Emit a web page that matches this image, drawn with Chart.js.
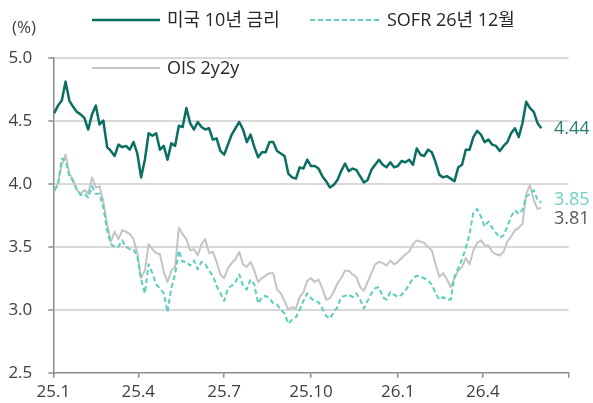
<!DOCTYPE html>
<html lang="ko">
<head>
<meta charset="UTF-8">
<title>미국 10년 금리 vs SOFR vs OIS</title>
<script src="https://cdn.jsdelivr.net/npm/chart.js@4.4.0/dist/chart.umd.min.js"></script>
<style>
  body { margin: 0; background: #fff; }
  canvas { display: block; }
</style>
</head>
<body>
<canvas id="chart" width="593" height="403"></canvas>
<script>
  // sampled every 4 calendar days starting from the first trading day
  const seriesStart = '2025-01-02';
  const stepDays = 4;

  const us10y = [
    4.56, 4.62, 4.66, 4.81, 4.66, 4.61, 4.57, 4.55, 4.52, 4.43,
    4.55, 4.62, 4.47, 4.50, 4.29, 4.26, 4.22, 4.31, 4.29, 4.30,
    4.27, 4.33, 4.24, 4.05, 4.19, 4.40, 4.38, 4.40, 4.27, 4.30,
    4.19, 4.32, 4.30, 4.46, 4.45, 4.60, 4.48, 4.43, 4.49, 4.45,
    4.43, 4.44, 4.35, 4.36, 4.26, 4.23, 4.31, 4.39, 4.44, 4.49,
    4.43, 4.33, 4.39, 4.29, 4.21, 4.25, 4.25, 4.33, 4.33, 4.26,
    4.24, 4.22, 4.08, 4.05, 4.04, 4.13, 4.12, 4.19, 4.14, 4.14,
    4.12, 4.06, 4.02, 3.97, 3.99, 4.03, 4.10, 4.16, 4.10, 4.12,
    4.11, 4.06, 4.01, 4.03, 4.11, 4.15, 4.19, 4.15, 4.13, 4.17,
    4.13, 4.14, 4.18, 4.17, 4.19, 4.15, 4.28, 4.23, 4.22, 4.27,
    4.25, 4.17, 4.07, 4.05, 4.06, 4.04, 4.02, 4.13, 4.15, 4.27,
    4.27, 4.37, 4.42, 4.39, 4.33, 4.35, 4.31, 4.30, 4.26, 4.30,
    4.33, 4.40, 4.44, 4.37, 4.48, 4.65, 4.60, 4.57, 4.48, 4.44
  ];

  const sofrDec26 = [
    3.95, 3.99, 4.20, 4.18, 4.06, 4.02, 3.95, 3.91, 3.92, 3.89,
    3.98, 3.92, 3.92, 3.81, 3.63, 3.52, 3.50, 3.50, 3.55, 3.50,
    3.48, 3.48, 3.42, 3.24, 3.13, 3.36, 3.29, 3.20, 3.17, 3.13,
    2.98, 3.17, 3.28, 3.47, 3.38, 3.38, 3.35, 3.39, 3.32, 3.38,
    3.36, 3.31, 3.27, 3.19, 3.13, 3.07, 3.17, 3.19, 3.22, 3.28,
    3.19, 3.16, 3.24, 3.20, 3.05, 3.10, 3.11, 3.09, 3.05, 3.04,
    3.00, 2.97, 2.89, 2.92, 2.94, 3.00, 3.07, 3.13, 3.09, 3.07,
    3.06, 3.01, 2.95, 2.93, 2.98, 3.02, 3.10, 3.11, 3.12, 3.10,
    3.13, 3.08, 3.01, 3.07, 3.13, 3.17, 3.18, 3.10, 3.08, 3.14,
    3.12, 3.10, 3.12, 3.15, 3.20, 3.25, 3.27, 3.26, 3.25, 3.23,
    3.20, 3.13, 3.08, 3.10, 3.08, 3.08, 3.26, 3.33, 3.40, 3.49,
    3.60, 3.77, 3.80, 3.74, 3.66, 3.70, 3.65, 3.61, 3.57, 3.59,
    3.66, 3.74, 3.79, 3.76, 3.79, 3.90, 3.92, 3.95, 3.87, 3.85
  ];

  const ois2y2y = [
    3.93, 4.01, 4.15, 4.23, 4.08, 4.03, 3.95, 3.92, 3.95, 3.92,
    4.05, 3.97, 3.98, 3.86, 3.68, 3.54, 3.62, 3.56, 3.63, 3.62,
    3.60, 3.56, 3.45, 3.25, 3.31, 3.52, 3.48, 3.45, 3.44, 3.30,
    3.22, 3.31, 3.34, 3.65, 3.60, 3.56, 3.47, 3.48, 3.43, 3.52,
    3.56, 3.45, 3.46, 3.38, 3.28, 3.25, 3.33, 3.37, 3.40, 3.46,
    3.36, 3.34, 3.38, 3.31, 3.22, 3.25, 3.27, 3.29, 3.29, 3.16,
    3.13, 3.07, 3.00, 3.02, 3.01, 3.10, 3.14, 3.23, 3.25, 3.22,
    3.24, 3.17, 3.08, 3.09, 3.14, 3.21, 3.25, 3.31, 3.31, 3.28,
    3.26, 3.18, 3.15, 3.22, 3.29, 3.36, 3.38, 3.37, 3.35, 3.39,
    3.36, 3.38, 3.41, 3.44, 3.46, 3.52, 3.55, 3.54, 3.53, 3.50,
    3.47, 3.36, 3.26, 3.29, 3.24, 3.18, 3.25, 3.31, 3.34, 3.41,
    3.36, 3.47, 3.53, 3.55, 3.51, 3.51, 3.46, 3.44, 3.43, 3.46,
    3.54, 3.58, 3.63, 3.65, 3.68, 3.92, 3.99, 3.87, 3.80, 3.81
  ];

  const tickMonths = ['2025-01-01', '2025-04-01', '2025-07-01', '2025-10-01', '2026-01-01', '2026-04-01', '2026-07-01'];
  const tickLabels = ['25.1', '25.4', '25.7', '25.10', '26.1', '26.4', ''];

  const seriesNames = ['미국 10년 금리', 'SOFR 26년 12월', 'OIS 2y2y'];
  const seriesColors = ['#0b6e62', '#5ccdbf', '#c4c4c4'];

  const FONT = '"Open Sans", "Noto Sans CJK KR", sans-serif';
  const dayOf = s => (Date.parse(s + 'T00:00:00Z') - Date.parse(tickMonths[0] + 'T00:00:00Z')) / 864e5;
  const toPoints = arr => arr.map((v, i) => ({ x: dayOf(seriesStart) + i * stepDays, y: v }));

  // legend, unit label and end-of-line values
  const annotations = {
    id: 'annotations',
    afterDraw(chart) {
      const ctx = chart.ctx;
      const ys = chart.scales.y;
      ctx.save();
      ctx.textBaseline = 'middle';
      ctx.textAlign = 'left';

      ctx.font = '17px ' + FONT;
      ctx.fillStyle = '#404040';
      ctx.fillText('(%)', 12, 28);

      const legend = [
        { x: 92, y: 20, w: 68, dash: [], color: seriesColors[0], width: 2.5, text: seriesNames[0] },
        { x: 310, y: 20, w: 70, dash: [5, 3], color: seriesColors[1], width: 2, text: seriesNames[1] },
        { x: 92, y: 68, w: 68, dash: [], color: seriesColors[2], width: 2, text: seriesNames[2] }
      ];
      ctx.font = '18px ' + FONT;
      legend.forEach(l => {
        ctx.beginPath();
        ctx.setLineDash(l.dash);
        ctx.strokeStyle = l.color;
        ctx.lineWidth = l.width;
        ctx.moveTo(l.x, l.y);
        ctx.lineTo(l.x + l.w, l.y);
        ctx.stroke();
        ctx.fillStyle = '#262626';
        ctx.fillText(l.text, l.x + l.w + 7, l.y + 1);
      });
      ctx.setLineDash([]);

      const ends = [
        { v: us10y[us10y.length - 1], color: '#2c7d73', dy: 1 },
        { v: sofrDec26[sofrDec26.length - 1], color: '#6dd0c4', dy: -3 },
        { v: ois2y2y[ois2y2y.length - 1], color: '#595959', dy: 11 }
      ];
      ctx.font = '18px ' + FONT;
      ends.forEach(e => {
        ctx.fillStyle = e.color;
        ctx.fillText(e.v.toFixed(2), 554, ys.getPixelForValue(e.v) + e.dy);
      });
      ctx.restore();
    }
  };

  Chart.defaults.font.family = FONT;
  Chart.defaults.color = '#404040';

  new Chart(document.getElementById('chart'), {
    type: 'line',
    data: {
      datasets: [
        { label: seriesNames[0], data: toPoints(us10y), borderColor: seriesColors[0], borderWidth: 2.5, order: 0 },
        { label: seriesNames[1], data: toPoints(sofrDec26), borderColor: seriesColors[1], borderWidth: 2, borderDash: [5, 3], order: 1 },
        { label: seriesNames[2], data: toPoints(ois2y2y), borderColor: seriesColors[2], borderWidth: 2, order: 2 }
      ]
    },
    options: {
      responsive: false,
      animation: false,
      elements: { point: { radius: 0 }, line: { tension: 0, borderJoinStyle: 'round' } },
      layout: { padding: { top: 57.7, right: 24.3, left: 0, bottom: 0 } },
      plugins: { legend: { display: false }, tooltip: { enabled: false } },
      scales: {
        x: {
          type: 'linear',
          min: dayOf(tickMonths[0]),
          max: dayOf(tickMonths[tickMonths.length - 1]),
          afterBuildTicks: s => { s.ticks = tickMonths.map(m => ({ value: dayOf(m) })); },
          afterFit: s => { s.height = 30.3; },
          ticks: {
            autoSkip: false,
            maxRotation: 0,
            padding: 4,
            font: { size: 17 },
            callback: (v, i) => tickLabels[i]
          },
          grid: { drawOnChartArea: false, tickLength: 5, tickColor: '#8c8c8c', lineWidth: 1.5 },
          border: { color: '#8c8c8c', width: 1.5 }
        },
        y: {
          min: 2.5,
          max: 5.0,
          afterFit: s => { s.width = 53.3; },
          ticks: { stepSize: 0.5, padding: 16, font: { size: 17 }, callback: v => v.toFixed(1) },
          grid: {
            color: c => c.tick && c.tick.value === 2.5 ? 'rgba(0,0,0,0)' : '#d9d9d9',
            lineWidth: 2,
            tickLength: 5,
            tickColor: '#8c8c8c',
            tickWidth: 1.5
          },
          border: { color: '#8c8c8c', width: 1.5 }
        }
      }
    },
    plugins: [annotations]
  });
</script>
</body>
</html>
